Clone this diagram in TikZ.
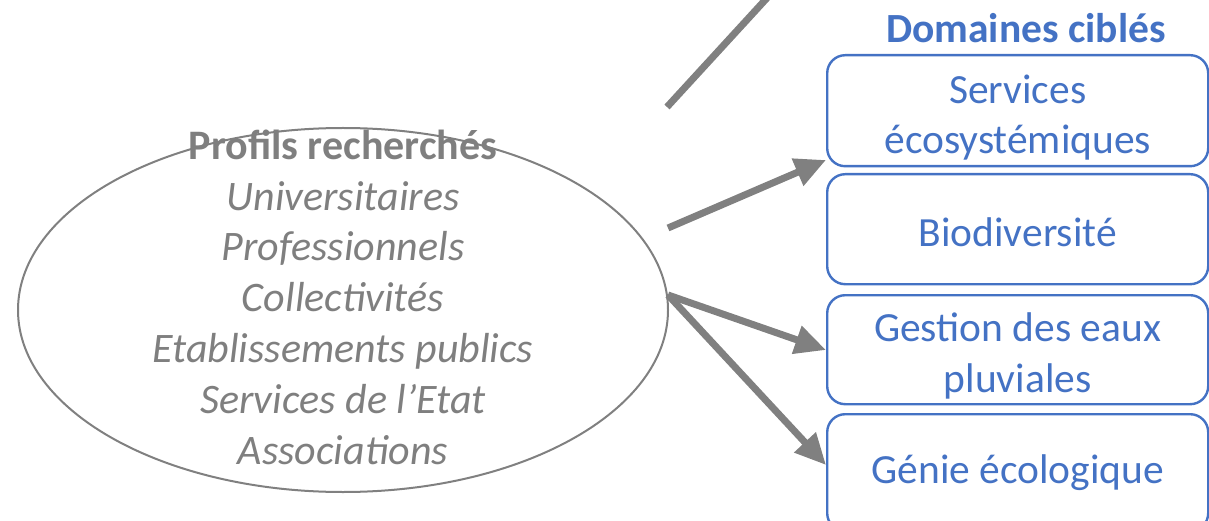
\documentclass[tikz,border=0pt]{standalone}
\usepackage{fontspec}
\setmainfont{Carlito}
\usetikzlibrary{arrows.meta,shapes.geometric}
\definecolor{tgray}{HTML}{7F7F7F}
\definecolor{lgray}{HTML}{808080}
\definecolor{bblue}{HTML}{4472C4}
\begin{document}
\begin{tikzpicture}[x=1pt,y=-1pt,
  txt/.style={font=\fontsize{41.5}{50.5}\selectfont, align=center, inner sep=0pt},
  box/.style={draw=bblue, line width=2.4pt, rounded corners=18pt,
    minimum width=381pt, anchor=north west, inner sep=0pt},
  btxt/.style={txt, text=bblue},
  conn/.style={draw=lgray, line width=7pt},
  arr/.style={conn, -{Triangle[length=31pt,width=28pt]}}]
\useasboundingbox (0,0) rectangle (1209,521);
\clip (0,0) rectangle (1209,521);
% ellipse
\node[draw=lgray, line width=2pt, ellipse, minimum width=650pt, minimum height=364pt, inner sep=0pt] (ell) at (343,310) {};
\node[txt, text=tgray, font=\fontsize{42}{50.8}\selectfont] (prof) at (343,297) {\textbf{Profils recherchés}\\ \textit{Universitaires}\\ \textit{Professionnels}\\ \textit{Collectivités}\\ \textit{Etablissements publics}\\ \textit{Services de l’Etat}\\ \textit{Associations}};
% title
\node[txt, text=bblue, font=\fontsize{41.5}{50.5}\selectfont\bfseries] (dom) at (1026,28) {Domaines ciblés};
% boxes
\node[box, minimum height=111pt] (b1) at (826,54) {};
\node[box, minimum height=110pt] (b2) at (826,173) {};
\node[box, minimum height=109pt] (b3) at (826,294) {};
\node[box, minimum height=117pt] (b4) at (826,413) {};
\node[btxt] (t1txt) at ([yshift=-7pt]b1.center) {Services\\écosystémiques};
\node[btxt] (t2txt) at ([yshift=-3pt]b2.center) {Biodiversité};
\node[btxt] (t3txt) at ([yshift=-6pt]b3.center) {Gestion des eaux\\pluviales};
\node[btxt] (t4txt) at ([yshift=0pt]b4.center) {Génie écologique};
% connectors
\coordinate (s0) at (667,107);
\coordinate (e0) at (778,-14);
\coordinate (s1) at (668,228);
\coordinate (s2) at (668,295);
\coordinate (t1) at (826,160);
\coordinate (t2) at (826,350);
\coordinate (t3) at (826,465);
\draw[conn] (s0) -- (e0);
\draw[arr] (s1) -- (t1);
\draw[arr] (s2) -- (t2);
\draw[arr] (s2) -- (t3);
\end{tikzpicture}
\end{document}
